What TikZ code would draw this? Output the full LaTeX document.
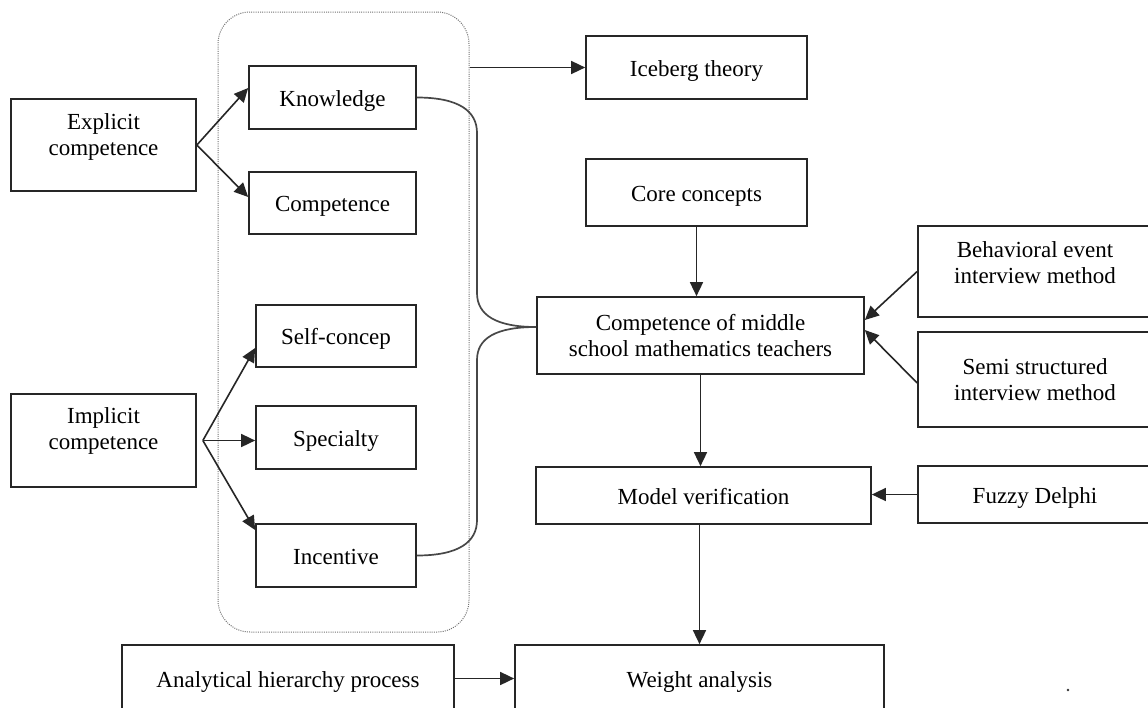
\documentclass[tikz,border=0pt]{standalone}
\usepackage{fontspec}
\setmainfont{Liberation Serif}
\usetikzlibrary{arrows.meta,calc}
\tikzset{
  base/.style={draw=black!85, line width=1.7pt, inner sep=0pt,
    font=\fontsize{23}{26}\selectfont, fill=white},
  box/.style={base, align=center},
  sbox/.style={base, text height=19.5pt, text depth=2.5pt},
  txt/.style={inner sep=0pt, align=center, font=\fontsize{23}{26}\selectfont},
  arr/.style={-{Triangle[length=14pt,width=13pt]}, line width=1.6pt, draw=black!85},
  link/.style={line width=1.7pt, draw=black!72},
  group/.style={draw=black!55, line width=1pt, dash pattern=on 1pt off 1.2pt, rounded corners=32pt, inner sep=0pt}
}
\begin{document}
\begin{tikzpicture}[x=1pt,y=-1pt]
\useasboundingbox (0,0) rectangle (1148,707);
\fill[white] (0,0) rectangle (1148,707);
\clip (0,0) rectangle (1148,707);

% dotted group
\node[group, minimum width=251pt, minimum height=620pt] (grp) at (343.5,322) {};

% left boxes
\node[box, minimum width=185pt, minimum height=92pt] (exp) at (103.5,145) {};
\node[txt] (expT) at (103.5,137) {Explicit\\competence};
\node[box, minimum width=185pt, minimum height=93pt] (imp) at (103.5,440.5) {};
\node[txt] (impT) at (103.5,431) {Implicit\\competence};

\node[sbox, minimum width=167pt, minimum height=63pt] (know) at (332.5,97.5) {Knowledge};
\node[sbox, minimum width=167pt, minimum height=62pt] (comp) at (332.5,203) {Competence};
\node[sbox, minimum width=160pt, minimum height=62pt] (self) at (336,336) {Self-concep};
\node[sbox, minimum width=160pt, minimum height=63pt] (spec) at (336,437.5) {Specialty};
\node[sbox, minimum width=160pt, minimum height=63pt] (inc) at (336,555.5) {Incentive};

% middle column
\node[sbox, minimum width=221pt, minimum height=63pt] (ice) at (696.5,67.5) {Iceberg theory};
\node[sbox, minimum width=221pt, minimum height=67pt] (core) at (696.5,192.5) {Core concepts};
\node[box, minimum width=327pt, minimum height=77pt] (mid) at (700.5,335.5) {Competence of middle\\school mathematics teachers};
\node[sbox, minimum width=335pt, minimum height=57pt] (model) at (703.5,495.5) {Model verification};

% right column
\node[box, minimum width=234pt, minimum height=91pt] (beh) at (1035,271.5) {};
\node[txt] (behT) at (1035,263) {Behavioral event\\interview method};
\node[box, minimum width=234pt, minimum height=95pt] (semi) at (1035,379.5) {Semi structured\\interview method};
\node[sbox, minimum width=234pt, minimum height=57pt] (fuzzy) at (1035,494.5) {Fuzzy Delphi};

% bottom row
\node[sbox, minimum width=332pt, minimum height=67pt] (ahp) at (288,678.5) {Analytical hierarchy process};
\node[sbox, minimum width=369pt, minimum height=67pt] (weight) at (699.5,678.5) {Weight analysis};

% arrows left
\draw[arr] (exp.east) -- ([yshift=9.5pt]know.west);
\draw[arr] (exp.east) -- ([yshift=6pt]comp.west);
\coordinate (impsrc) at ([xshift=6pt]imp.east);
\draw[arr] (impsrc) -- ([yshift=-12pt]self.west);
\draw[arr] (impsrc) -- (spec.west |- impsrc);
\draw[arr] (impsrc) -- ([yshift=25.5pt]inc.west);

% group to iceberg
\draw[arr] (grp.east |- ice.west) -- (ice.west);

% brace
\coordinate (join) at ([yshift=8.5pt]mid.west);
\coordinate (b1) at (477,133);
\coordinate (b2) at (477,293);
\coordinate (b3) at (477,360);
\coordinate (b4) at (477,520);
\draw[link] (know.east) .. controls +(42,0) and +(0,-22) .. (b1) -- (b2)
  .. controls +(0,22) and +(-40,0) .. (join);
\draw[link] (join) .. controls +(-40,0) and +(0,-22) .. (b3) -- (b4)
  .. controls +(0,22) and +(42,0) .. (inc.east);

% vertical flow
\draw[arr] (core.south) -- (core.south |- mid.north);
\draw[arr] (mid.south) -- (mid.south |- model.north);
\draw[arr] (weight.north |- model.south) -- (weight.north);

% right inputs
\draw[arr] (beh.west) -- ([yshift=15.5pt]mid.east);
\draw[arr] ([yshift=-3.5pt]semi.west) -- ([yshift=5.5pt]mid.east);
\draw[arr] (fuzzy.west) -- (model.east |- fuzzy.west);

% bottom
\draw[arr] (ahp.east) -- (weight.west);

% stray dot
\fill[black!80] (1068,690) circle (1.4pt);
\end{tikzpicture}
\end{document}
